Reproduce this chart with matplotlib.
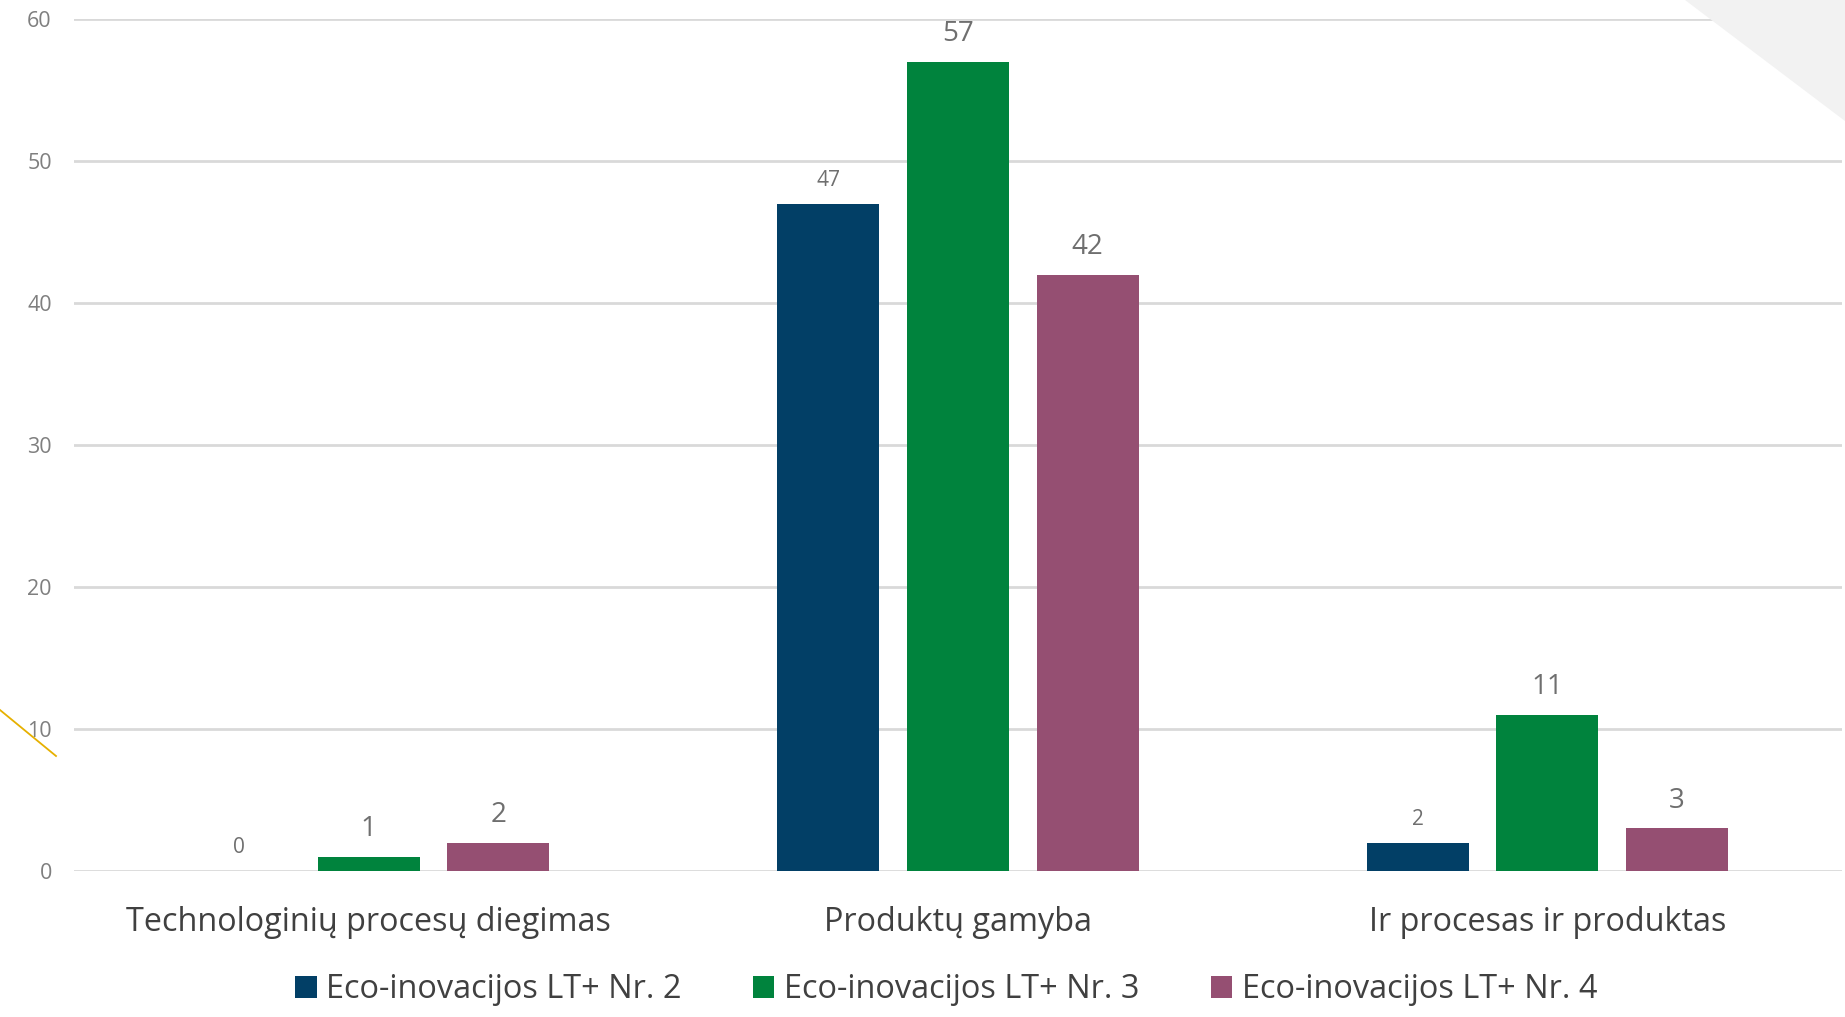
import numpy as np
import matplotlib.pyplot as plt
from matplotlib.patches import Patch, Polygon
from matplotlib.lines import Line2D

plt.rcParams['font.family'] = ['Open Sans', 'DejaVu Sans']

categories = ["Technologinių procesų diegimas", "Produktų gamyba", "Ir procesas ir produktas"]
series_names = ["Eco-inovacijos LT+ Nr. 2", "Eco-inovacijos LT+ Nr. 3", "Eco-inovacijos LT+ Nr. 4"]
nr2 = [0, 47, 2]
nr3 = [1, 57, 11]
nr4 = [2, 42, 3]
colors = ["#023F66", "#00833D", "#954F72"]
label_sizes = [15, 20, 20]
label_offsets = [13, 15, 15]

fig = plt.figure(figsize=(18.45, 10.17), dpi=100)

# slide decorations
fig.patches.append(Polygon([[1685 / 1845, 1], [1, 1], [1, 1 - 121 / 1017]],
                           closed=True, transform=fig.transFigure,
                           facecolor="#f2f2f2", edgecolor="none", zorder=0))

ax = fig.add_axes([74 / 1845, 1 - 871 / 1017, 1768 / 1845, 852 / 1017])
ax.set_facecolor("none")

x = np.arange(len(categories))
width = 0.173
step = 0.22
for i, (vals, name) in enumerate(zip([nr2, nr3, nr4], series_names)):
    pos = x + (i - 1) * step
    bars = ax.bar(pos, vals, width, color=colors[i], label=name, zorder=3)
    for b, v in zip(bars, vals):
        ax.annotate(str(v), (b.get_x() + b.get_width() / 2, v),
                    xytext=(0, label_offsets[i]), textcoords="offset points",
                    ha="center", va="baseline", fontsize=label_sizes[i],
                    color="#6f6f6f")

ax.set_ylim(0, 60)
ax.set_xlim(-0.5, 2.5)
ax.set_yticks(range(0, 61, 10))
ax.yaxis.grid(True, color="#d9d9d9", linewidth=2, zorder=0)
ax.set_axisbelow(True)
for s in ax.spines.values():
    s.set_visible(False)
ax.tick_params(axis="y", length=0, pad=16, labelsize=15.5, labelcolor="#7f7f7f")
ax.set_xticks(x)
ax.set_xticklabels(categories)
ax.tick_params(axis="x", length=0, pad=25, labelsize=23.3, labelcolor="#404040")

handles = [Patch(facecolor=c, edgecolor="none") for c in colors]
fig.legend(handles, series_names, loc="center", bbox_to_anchor=(0.513, 1 - 990 / 1017),
           ncol=3, frameon=False, fontsize=23.4, labelcolor="#404040",
           handlelength=0.65, handleheight=0.65, handletextpad=0.3, columnspacing=2.2)

fig.add_artist(Line2D([0, 56 / 1845], [1 - 710 / 1017, 1 - 756 / 1017],
                      transform=fig.transFigure, color="#E6B000", linewidth=1.3))

fig.savefig("out.png", dpi=100)
